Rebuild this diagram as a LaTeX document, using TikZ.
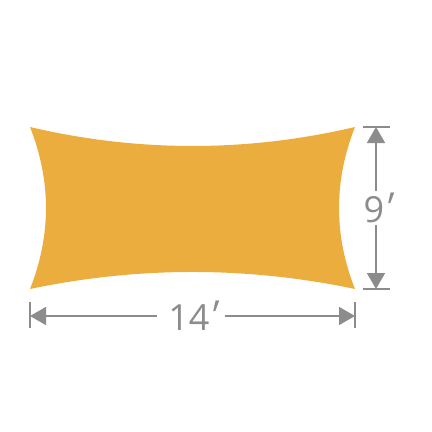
\documentclass[tikz,border=0pt]{standalone}
\usepackage{fontspec}
\setmainfont{Open Sans}
\newfontfamily\primefont[FakeSlant=0.3,Scale=1.15]{Open Sans}
\usetikzlibrary{arrows.meta}
\definecolor{sail}{HTML}{EBAE3E}
\definecolor{dim}{HTML}{8C8C8C}
\newcommand{\ft}{{\kern-0.14em\primefont ′}}
\tikzset{
  dimline/.style={draw=dim,line width=1.6pt,-{Triangle[width=18pt,length=16pt]}},
  dimtick/.style={draw=dim,line width=1.6pt},
  dimlabel/.style={text=dim,font=\fontsize{36}{36}\selectfont,inner sep=2pt}
}
\begin{document}
\begin{tikzpicture}[x=1pt,y=-1pt]
	\useasboundingbox (0,0) rectangle (432,432);
	% sail
	\fill[sail] (30,127) .. controls (138,152.3) and (247,152.3) .. (355,127)
		.. controls (333.7,181) and (333.7,235) .. (355,289)
		.. controls (247,266.3) and (138,266.3) .. (30,289)
		.. controls (51.3,235) and (51.3,181) .. (30,127);
	% width
	\coordinate (wl) at (30,316);
	\coordinate (wr) at (355,316);
	\draw[dimtick] (30,302) -- (30,328);
	\draw[dimtick] (355,302) -- (355,328);
	\node[dimlabel,inner xsep=11pt] (width) at (191,316) {14\ft};
	\draw[dimline] (width.west) -- (wl);
	\draw[dimline] (width.east) -- (wr);
	% height
	\coordinate (ht) at (376,127);
	\coordinate (hb) at (376,289);
	\draw[dimtick] (363,127) -- (390,127);
	\draw[dimtick] (363,289) -- (390,289);
	\node[dimlabel] (height) at (376,208) {9\ft};
	\draw[dimline] (height.north) -- (ht);
	\draw[dimline] (height.south) -- (hb);
\end{tikzpicture}
\end{document}
